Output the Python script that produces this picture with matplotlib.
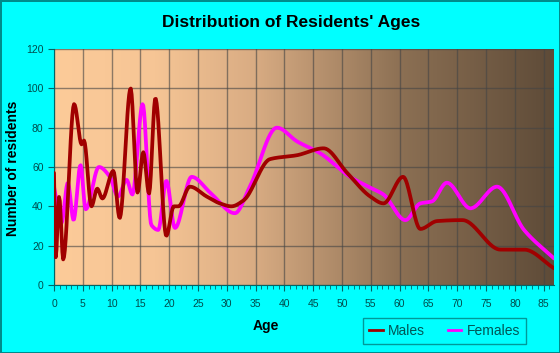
import numpy as np
import matplotlib
matplotlib.use('Agg')
import matplotlib.pyplot as plt
from matplotlib.colors import LinearSegmentedColormap
from matplotlib.lines import Line2D

# values (age, residents)
male_ages = [0, 0.3, 0.9, 1.6, 3.5, 4.8, 5.2, 6.5, 7.5, 8.4, 10.3, 11.4, 13.3, 14.5, 15.5,
             16.5, 17.6, 19.5, 20.8, 21.6, 23.6, 26.5, 28.8, 30.8, 32.9, 37.5, 42.2, 46.8,
             50.9, 54.9, 57.2, 60.6, 63.6, 66.5, 70.9, 77.5, 81.6, 86.8]
males = [57, 14, 45, 13, 92, 71.5, 73.5, 40, 49, 44, 58, 34, 100, 47, 67.5,
         46.5, 95, 25, 40, 40, 50, 45, 41.5, 40, 43, 64, 66, 69.5,
         57, 45, 41.5, 55, 28.5, 32.5, 33, 18, 18, 8.5]

female_ages = [0, 1.3, 2.4, 3.4, 4.6, 5.5, 7.8, 9.7, 11.1, 12.6, 13.6, 15.4, 16.9, 18.1,
               19.5, 21, 23.9, 27.1, 31.4, 34, 38.7, 42.2, 46.2, 51.4, 54.9, 57.2, 61,
               63.6, 65.6, 68.2, 72.3, 76.9, 81.6, 86.8]
females = [50, 31.5, 52, 33, 61, 38.5, 60, 55, 45, 53.5, 46, 92, 30.5, 28,
           53, 29, 55, 47, 36.5, 50, 80, 73, 67, 55, 49.5, 46, 33,
           41.5, 42.5, 52, 39, 50, 28, 13.5]

x_ticks = list(range(0, 90, 5))
y_ticks = list(range(0, 140, 20))


def smooth(x, y, n=600):
    # monotone cubic (pchip) curve through the points, like the rounded lines of the original
    x = np.asarray(x, float)
    y = np.asarray(y, float)
    h = np.diff(x)
    d = np.diff(y) / h
    m = np.zeros_like(y)
    m[0], m[-1] = d[0], d[-1]
    for k in range(1, len(x) - 1):
        if d[k - 1] * d[k] > 0:
            w1 = 2 * h[k] + h[k - 1]
            w2 = h[k] + 2 * h[k - 1]
            m[k] = (w1 + w2) / (w1 / d[k - 1] + w2 / d[k])
    xn = np.linspace(x[0], x[-1], n)
    i = np.clip(np.searchsorted(x, xn) - 1, 0, len(x) - 2)
    t = (xn - x[i]) / h[i]
    h00 = 2 * t**3 - 3 * t**2 + 1
    h10 = t**3 - 2 * t**2 + t
    h01 = -2 * t**3 + 3 * t**2
    h11 = t**3 - t**2
    yn = h00 * y[i] + h10 * h[i] * m[i] + h01 * y[i + 1] + h11 * h[i] * m[i + 1]
    return xn, yn


teal = '#006666'
fig = plt.figure(figsize=(5.6, 3.53), dpi=100, facecolor='#00FFFF',
                 edgecolor='#008B8B', linewidth=2)
ax = fig.add_axes([54 / 560, 1 - 285 / 353, 500 / 560, 236 / 353])

xmax = 86.8
grad = LinearSegmentedColormap.from_list('bg', [(0, '#FCCB99'), (0.2, '#F6C595'),
                                                (0.4, '#D9AC83'), (0.7, '#8B6F53'),
                                                (1, '#5E4B38')])
ax.imshow(np.linspace(0, 1, 256).reshape(1, -1), cmap=grad, aspect='auto',
          extent=[0, xmax, 0, 120], zorder=0)

ax.set_xlim(0, xmax)
ax.set_ylim(0, 120)
ax.set_xticks(x_ticks)
ax.set_xticks(range(0, 87), minor=True)
ax.set_yticks(y_ticks)
ax.grid(True, which='major', color='#444444', alpha=0.6, linewidth=1, zorder=1)

mx, my = smooth(male_ages, males)
fx, fy = smooth(female_ages, females)
ax.plot(fx, fy, color='#FF00FF', linewidth=2.7, zorder=3, solid_capstyle='round')
ax.plot(mx, my, color='#A00000', linewidth=2.7, zorder=4, solid_capstyle='round')

for s in ['top', 'right']:
    ax.spines[s].set_visible(False)
for s in ['left', 'bottom']:
    ax.spines[s].set_color(teal)
ax.tick_params(axis='both', which='major', labelsize=7.5, colors=teal, labelcolor='#004C4C',
               length=4, direction='out')
ax.tick_params(axis='x', which='minor', length=3, color=teal)
ax.tick_params(axis='x', pad=6)
for lab in ax.get_xticklabels() + ax.get_yticklabels():
    lab.set_family('Liberation Sans')

fig.text(0.52, 1 - 22 / 353, "Distribution of Residents' Ages", ha='center', va='center',
         fontsize=12.5, fontweight='bold', family='Liberation Sans')
fig.text(266 / 560, 1 - 326 / 353, 'Age', ha='center', va='center', fontsize=10,
         fontweight='bold', family='Liberation Sans')
fig.text(13 / 560, 1 - 168 / 353, 'Number of residents', ha='center', va='center',
         rotation=90, fontsize=10, fontweight='bold', family='Liberation Sans')

handles = [Line2D([], [], color='#A00000', linewidth=2),
           Line2D([], [], color='#FF00FF', linewidth=2)]
leg = fig.legend(handles, ['Males', 'Females'], loc='center', ncol=2,
                 bbox_to_anchor=(0.794, 1 - 331 / 353), frameon=True, fancybox=False,
                 facecolor='#00FFFF', edgecolor='#008080',
                 handlelength=1.0, handletextpad=0.4, columnspacing=1.6,
                 borderpad=0.4, prop={'family': 'Liberation Sans', 'size': 10})
for t in leg.get_texts():
    t.set_color('#005555')

plt.savefig('out.png', dpi=100, facecolor=fig.get_facecolor(), edgecolor=fig.get_edgecolor())
